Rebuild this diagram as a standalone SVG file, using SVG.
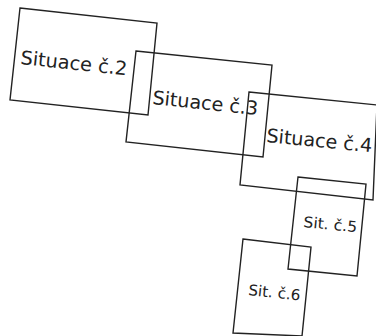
<svg xmlns="http://www.w3.org/2000/svg" width="376" height="336" viewBox="0 0 376 336">
<style>
.box{fill:none;stroke:#222;stroke-width:1.4;stroke-linejoin:miter}
.lbl{font-family:"DejaVu Sans",sans-serif;font-size:19px;fill:#222}
.sm{font-family:"DejaVu Sans",sans-serif;font-size:15px;fill:#222}
</style>
<rect width="376" height="336" fill="#fff"/>
<g id="connectors"></g>
<g id="s2">
<polygon class="box" points="20,8 157,23 148,115 10,100"/>
<text class="lbl" x="20" y="64" textLength="107" lengthAdjust="spacingAndGlyphs" transform="rotate(6 20 64)">Situace č.2</text>
</g>
<g id="s3">
<polygon class="box" points="136,51 272,65 263,157 126,142"/>
<text class="lbl" x="152" y="104" textLength="106" lengthAdjust="spacingAndGlyphs" transform="rotate(6 152 104)">Situace č.3</text>
</g>
<g id="s4">
<polygon class="box" points="249,92 377,105 373,200 240,185"/>
<text class="lbl" x="266" y="142" textLength="106" lengthAdjust="spacingAndGlyphs" transform="rotate(5.5 266 142)">Situace č.4</text>
</g>
<g id="s5">
<polygon class="box" points="298,177 366,184 357,276 288,269"/>
<text class="sm" x="303" y="227" textLength="54" lengthAdjust="spacingAndGlyphs" transform="rotate(5.5 303 227)">Sit. č.5</text>
</g>
<g id="s6">
<polygon class="box" points="243,239 311,247 302,336 233,333"/>
<text class="sm" x="248" y="295" textLength="52" lengthAdjust="spacingAndGlyphs" transform="rotate(6 248 295)">Sit. č.6</text>
</g>
</svg>
